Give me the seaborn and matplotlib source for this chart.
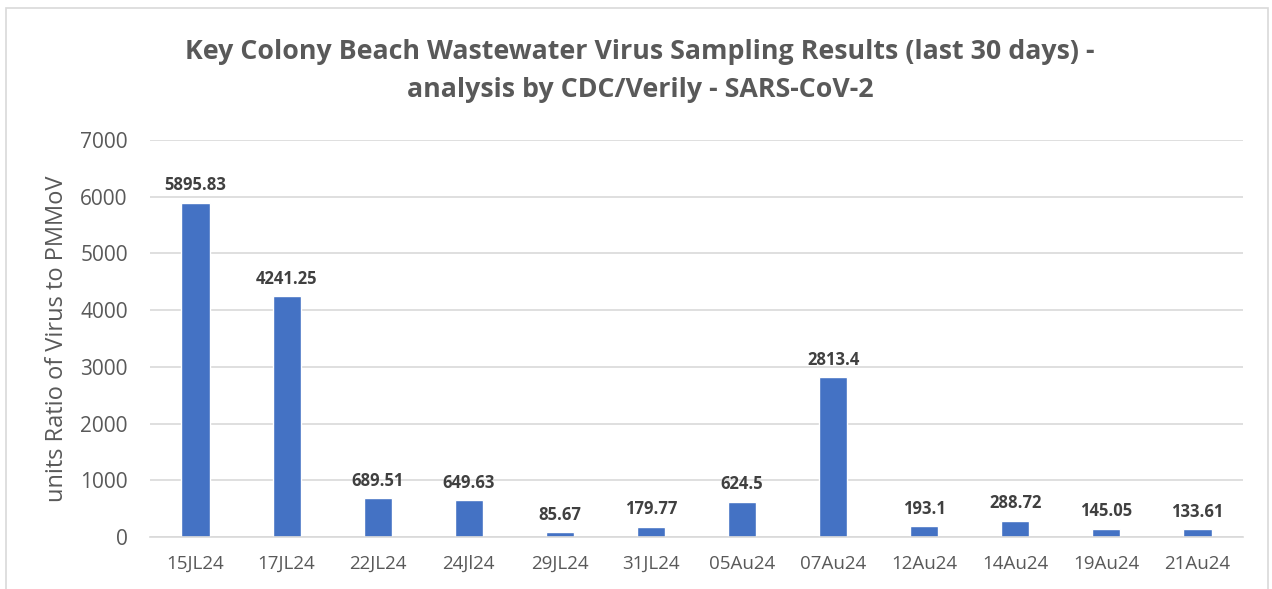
import pandas as pd
import seaborn as sns
from matplotlib import pyplot as plt
from matplotlib.patches import Rectangle

# sample dates and results
dates = ["15JL24", "17JL24", "22JL24", "24Jl24", "29JL24", "31JL24",
         "05Au24", "07Au24", "12Au24", "14Au24", "19Au24", "21Au24"]
values = [5895.83, 4241.25, 689.51, 649.63, 85.67, 179.77,
          624.5, 2813.4, 193.1, 288.72, 145.05, 133.61]
labels = ["5895.83", "4241.25", "689.51", "649.63", "85.67", "179.77",
          "624.5", "2813.4", "193.1", "288.72", "145.05", "133.61"]
y_ticks = [0, 1000, 2000, 3000, 4000, 5000, 6000, 7000]

df = pd.DataFrame({"date": dates, "value": values})

sns.set_style("white")
plt.rcParams["font.family"] = ["Open Sans", "DejaVu Sans"]

fig = plt.figure(figsize=(12.72, 5.89), dpi=100)
ax = fig.add_axes([150 / 1272, 1 - 537 / 589, (1243 - 150) / 1272, (537 - 140) / 589])

sns.barplot(data=df, x="date", y="value", color="#4472C4", width=0.31,
            saturation=1, ax=ax)

ax.bar_label(ax.containers[0], labels=labels, padding=6, fontsize=12,
             fontweight="bold", color="#404040")

ax.set_xlim(-0.5, len(dates) - 0.5)
ax.set_ylim(0, 7000)
ax.set_yticks(y_ticks)
ax.yaxis.grid(True, color="#d9d9d9", linewidth=1.2)
ax.set_axisbelow(True)
for side in ["top", "right", "left"]:
    ax.spines[side].set_visible(False)
ax.spines["bottom"].set_color("#d9d9d9")
ax.spines["bottom"].set_linewidth(1.2)
ax.tick_params(axis="both", length=0, colors="#595959")
ax.tick_params(axis="y", labelsize=15, pad=16)
ax.tick_params(axis="x", labelsize=13.5, pad=13)
ax.set_xlabel("")
ax.set_ylabel("units Ratio of Virus to PMMoV", fontsize=17, color="#595959", labelpad=8)

fig.text(0.503, 1 - 71 / 589,
         "Key Colony Beach Wastewater Virus Sampling Results (last 30 days) -\nanalysis by CDC/Verily - SARS-CoV-2",
         ha="center", va="center", fontsize=19.3, fontweight="bold", color="#595959",
         linespacing=1.57)

# chart frame
fig.patches.append(Rectangle((6 / 1272, -0.01), 1262 / 1272, 1 - 8 / 589 + 0.01,
                             transform=fig.transFigure, fill=False,
                             edgecolor="#d9d9d9", linewidth=1.2))

fig.savefig("out.png", dpi=100)
